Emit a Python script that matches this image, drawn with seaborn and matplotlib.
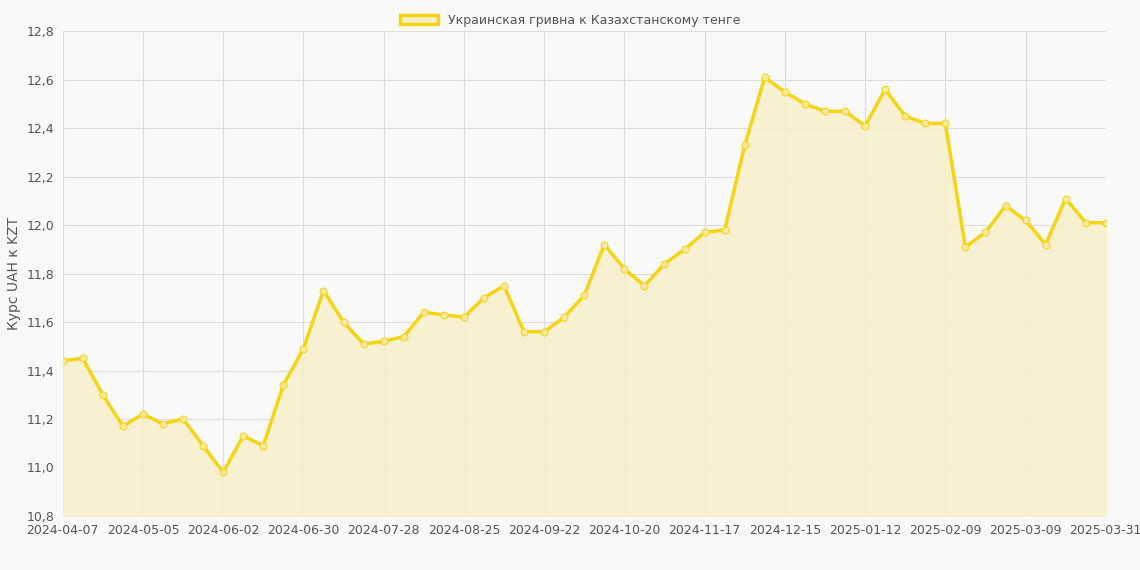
import matplotlib
matplotlib.use("Agg")
import matplotlib.pyplot as plt
import matplotlib.patches as mpatches
import seaborn as sns
import pandas as pd
import numpy as np

dates = [d.strftime("%Y-%m-%d") for d in pd.date_range("2024-04-07", "2025-03-30", freq="7D")] + ["2025-03-31"]
values = [11.44, 11.45, 11.30, 11.17, 11.22, 11.18, 11.20, 11.09, 10.98, 11.13,
          11.09, 11.34, 11.49, 11.73, 11.60, 11.51, 11.52, 11.54, 11.64, 11.63,
          11.62, 11.70, 11.75, 11.56, 11.56, 11.62, 11.71, 11.92, 11.82, 11.75,
          11.84, 11.90, 11.97, 11.98, 12.33, 12.61, 12.55, 12.50, 12.47, 12.47,
          12.41, 12.56, 12.45, 12.42, 12.42, 11.91, 11.97, 12.08, 12.02, 11.92,
          12.11, 12.01, 12.01]
label = "Украинская гривна к Казахстанскому тенге"

sns.set_theme(style="whitegrid")
plt.rcParams['font.family'] = ['DejaVu Sans']
df = pd.DataFrame({"i": np.arange(len(dates)), "v": values})

fig, ax = plt.subplots(figsize=(11.4, 5.7), dpi=100)
fig.patch.set_facecolor("#f9f9f9")
ax.set_facecolor("#f9f9f9")
line_c = "#f5d414"
ax.fill_between(df["i"], df["v"], 10.8, color="#f8f0c8", alpha=0.8, zorder=1)
sns.lineplot(data=df, x="i", y="v", ax=ax, color=line_c, linewidth=2.5, marker="o",
             markersize=5, markerfacecolor="#f7eaa0", markeredgecolor=line_c, zorder=3)
ax.set_xlim(0, len(dates) - 1)
ax.set_ylim(10.8, 12.8)
ticks = list(range(0, 49, 4)) + [len(dates) - 1]
ax.set_xticks(ticks)
ax.set_xticklabels([dates[t] for t in ticks], fontsize=9, color="#555")
yt = np.arange(10.8, 12.81, 0.2)
ax.set_yticks(yt)
ax.set_yticklabels([f"{y:.1f}".replace(".", ",") for y in yt], fontsize=9, color="#555")
ax.set_xticks(range(len(dates)), minor=False) if False else None
ax.grid(True, color="#dddddd", linewidth=0.8)
ax.set_xlabel("")
ax.set_ylabel("Курс UAH к KZT", fontsize=10, color="#555")
for s in ax.spines.values():
    s.set_visible(False)
ax.tick_params(length=0, pad=6)
h = mpatches.Patch(facecolor="#f8f0c8", edgecolor=line_c, linewidth=2.5, label=label)
fig.legend(handles=[h], loc="upper center", bbox_to_anchor=(0.5, 0.995), frameon=False,
           fontsize=9, handlelength=3, labelcolor="#555")
fig.subplots_adjust(left=0.055, right=0.97, top=0.945, bottom=0.095)
fig.savefig("out.png", dpi=100, facecolor=fig.get_facecolor())
